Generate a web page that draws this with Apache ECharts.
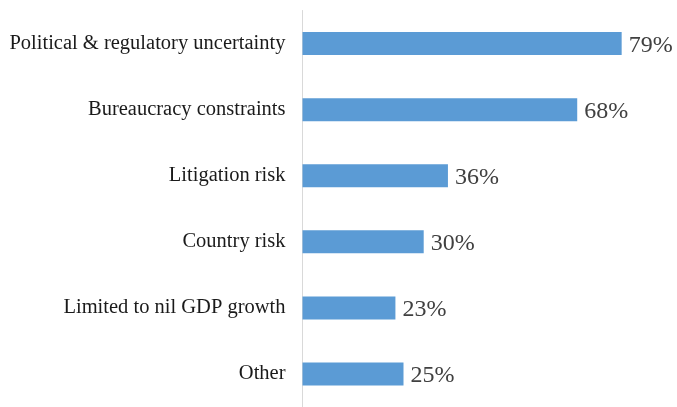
<!DOCTYPE html>
<html>
<head>
<meta charset="utf-8">
<script src="https://cdn.jsdelivr.net/npm/echarts@6/dist/echarts.min.js"></script>
<style>
  html, body { margin: 0; padding: 0; background: #ffffff; }
  #chart { width: 677px; height: 407px; }
</style>
</head>
<body>
<div id="chart"></div>
<script>
// Survey responses: main obstacles, share of respondents (%)
const categories = [
  'Political & regulatory uncertainty',
  'Bureaucracy constraints',
  'Litigation risk',
  'Country risk',
  'Limited to nil GDP growth',
  'Other'
];
const shares = [79, 68, 36, 30, 23, 25];

const chart = echarts.init(document.getElementById('chart'), null, { renderer: 'canvas' });

chart.setOption({
  backgroundColor: '#ffffff',
  animation: false,
  grid: { left: 302.5, top: 10.5, width: 363.6, height: 402, containLabel: false },
  xAxis: {
    type: 'value',
    min: 0,
    max: 90,
    show: false
  },
  yAxis: {
    type: 'category',
    data: categories,
    inverse: true,
    axisLine: { show: true, lineStyle: { color: '#d9d9d9', width: 1 } },
    axisTick: { show: false },
    axisLabel: {
      margin: 17,
      color: '#1a1a1a',
      fontFamily: 'Liberation Serif',
      fontSize: 20.5,
      padding: [4, 0, 0, 0]
    },
    splitLine: { show: false }
  },
  series: [{
    type: 'bar',
    data: shares,
    barWidth: 23,
    itemStyle: { color: '#5b9bd5' },
    label: {
      show: true,
      position: 'right',
      distance: 7,
      offset: [0, 2],
      formatter: '{c}%',
      color: '#404040',
      fontFamily: 'Liberation Serif',
      fontSize: 24
    }
  }]
});
</script>
</body>
</html>
